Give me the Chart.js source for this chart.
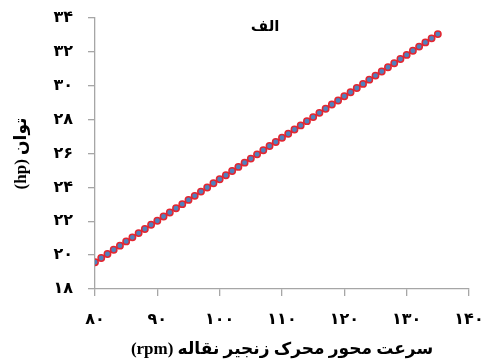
<!DOCTYPE html>
<html>
<head>
<meta charset="utf-8">
<script src="https://cdn.jsdelivr.net/npm/chart.js@4/dist/chart.umd.min.js"></script>
<style>
  html, body { margin: 0; padding: 0; background: #fff; }
  #wrap { width: 485px; height: 363px; }
</style>
</head>
<body>
<div id="wrap"><canvas id="c" width="485" height="363" dir="rtl"></canvas></div>
<script>
// Conveyor chain drive shaft speed (rpm) vs. power (hp)
const speedRpm = [80, 81, 82, 83, 84, 85, 86, 87, 88, 89,
  90, 91, 92, 93, 94, 95, 96, 97, 98, 99,
  100, 101, 102, 103, 104, 105, 106, 107, 108, 109,
  110, 111, 112, 113, 114, 115, 116, 117, 118, 119,
  120, 121, 122, 123, 124, 125, 126, 127, 128, 129,
  130, 131, 132, 133, 134, 135];
const powerHp = [19.58, 19.83, 20.07, 20.32, 20.56, 20.81, 21.05, 21.30, 21.54, 21.79,
  22.03, 22.28, 22.52, 22.77, 23.01, 23.26, 23.50, 23.75, 23.99, 24.24,
  24.48, 24.72, 24.97, 25.21, 25.46, 25.70, 25.95, 26.19, 26.44, 26.68,
  26.93, 27.17, 27.42, 27.66, 27.91, 28.15, 28.40, 28.64, 28.89, 29.13,
  29.38, 29.62, 29.87, 30.11, 30.36, 30.60, 30.84, 31.09, 31.33, 31.58,
  31.82, 32.07, 32.31, 32.56, 32.80, 33.05];
const xTicks = [80, 90, 100, 110, 120, 130, 140];
const yTicks = [18, 20, 22, 24, 26, 28, 30, 32, 34];
const panelTitle = 'الف';
const xTitle = 'سرعت محور محرک زنجیر نقاله (rpm)';
const yTitle = 'توان (hp)';

const faDigits = '۰۱۲۳۴۵۶۷۸۹';
const toFa = n => String(n).replace(/[0-9]/g, d => faDigits[d]);

const FONT = '"Liberation Serif", "DejaVu Serif", "DejaVu Sans", serif';
const AXIS = '#a6a6a6';

const points = speedRpm.map((x, i) => ({ x: x, y: powerHp[i] }));

// small label drawn inside the top of the plot area
const panelLabel = {
  id: 'panelLabel',
  afterDraw(chart) {
    const { ctx, chartArea } = chart;
    ctx.save();
    ctx.font = 'bold 15px ' + FONT;
    ctx.fillStyle = '#000';
    ctx.textAlign = 'center';
    ctx.textBaseline = 'middle';
    ctx.fillText(panelTitle, chartArea.left + (chartArea.right - chartArea.left) * 0.455, chartArea.top + 9);
    ctx.restore();
  }
};

new Chart(document.getElementById('c'), {
  type: 'scatter',
  data: {
    datasets: [{
      data: points,
      showLine: true,
      borderColor: 'rgb(228, 38, 48)',
      borderWidth: 1.5,
      pointBackgroundColor: 'rgb(79, 129, 189)',
      pointBorderColor: 'rgb(228, 38, 48)',
      pointBorderWidth: 1.5,
      pointRadius: 3.2,
      tension: 0
    }]
  },
  options: {
    responsive: false,
    animation: false,
    devicePixelRatio: 1,
    layout: { padding: { top: 18, right: 16, left: 0, bottom: 0 } },
    plugins: {
      legend: { display: false },
      tooltip: { enabled: false },
      title: { display: false }
    },
    scales: {
      x: {
        type: 'linear',
        min: 80, max: 140,
        afterBuildTicks(scale) { scale.ticks = xTicks.map(v => ({ value: v })); },
        afterFit(scale) {
          scale.height = 74;
          scale.paddingLeft = 0;
          scale.paddingRight = 0;
        },
        border: { display: true, color: AXIS, width: 1.3 },
        grid: { display: true, drawOnChartArea: false, drawTicks: true, tickLength: 7, color: AXIS, lineWidth: 1.3 },
        ticks: {
          callback: v => toFa(v),
          color: '#000',
          padding: 14,
          maxRotation: 0,
          font: { family: FONT, size: 16, weight: 'bold' }
        },
        title: {
          display: true,
          text: xTitle,
          color: '#000',
          padding: { top: 0, bottom: 3 },
          font: { family: FONT, size: 17, weight: 'bold' }
        }
      },
      y: {
        type: 'linear',
        min: 18, max: 34,
        afterBuildTicks(scale) { scale.ticks = yTicks.map(v => ({ value: v })); },
        afterFit(scale) {
          scale.width = 95;
          scale.paddingTop = 0;
          scale.paddingBottom = 0;
        },
        border: { display: true, color: AXIS, width: 1.3 },
        grid: { display: true, drawOnChartArea: false, drawTicks: true, tickLength: 7, color: AXIS, lineWidth: 1.3 },
        ticks: {
          callback: v => toFa(v),
          color: '#000',
          padding: 15,
          font: { family: FONT, size: 16, weight: 'bold' }
        },
        title: {
          display: true,
          text: yTitle,
          color: '#000',
          padding: { top: 11, bottom: 0 },
          font: { family: FONT, size: 17, weight: 'bold' }
        }
      }
    }
  },
  plugins: [panelLabel]
});
</script>
</body>
</html>
